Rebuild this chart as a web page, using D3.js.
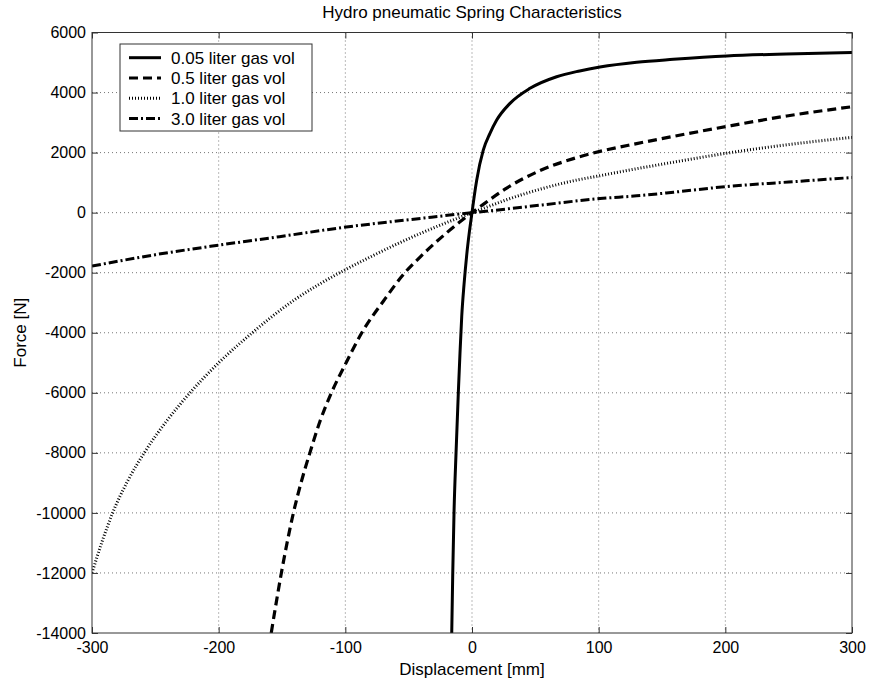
<!DOCTYPE html>
<html><head><meta charset="utf-8">
<script src="https://cdn.jsdelivr.net/npm/d3@7"></script>
<style>
body{margin:0;background:#fff;}
text{font-family:"Liberation Sans",Arial,sans-serif;fill:#000;}
</style></head><body>
<svg id="c" width="871" height="685"></svg>
<script>
const titleText = "Hydro pneumatic Spring Characteristics";
const xLabel = "Displacement [mm]";
const yLabel = "Force [N]";
const xTicks = [-300,-200,-100,0,100,200,300];
const yTicks = [6000,4000,2000,0,-2000,-4000,-6000,-8000,-10000,-12000,-14000];
const seriesNames = ["0.05 liter gas vol","0.5 liter gas vol","1.0 liter gas vol","3.0 liter gas vol"];

const x005 = [-16,-15.2,-14.2,-12.6,-10.8,-9.5,-8.1,-6.3,-4.2,-2.1,0,1.8,3.7,8.9,14.2,19.5,30,45.8,66.8,85,101,130,159,201,248,300];
const y005 = [-14000,-12000,-10000,-8000,-6000,-4700,-3450,-2400,-1420,-650,0,560,1083,2083,2640,3083,3640,4140,4527,4720,4850,5010,5107,5220,5285,5330];

const x05 = [-158.5,-155,-150.5,-146,-141,-135,-128,-120,-111,-100,-87,-70,-53,-41,-20,0,10,27.4,53.7,80,101,130,159,201,248.5,300];
const y05 = [-14000,-13100,-12000,-11000,-10000,-9000,-8000,-6950,-6000,-5050,-4000,-2950,-2000,-1480,-670,0,310,820,1400,1800,2040,2300,2540,2870,3220,3527];

const x10 = [-300,-292,-283.7,-272,-258,-240,-222.6,-200,-172.6,-160,-140,-120,-100,-80,-60,-40,-20,0,13,27.4,53.7,80,101,127,159,201,248.5,300];
const y10 = [-12000,-10950,-10000,-8950,-7950,-6880,-6000,-5000,-3970,-3530,-2900,-2370,-1900,-1470,-1060,-680,-330,0,205,430,780,1060,1230,1440,1680,1980,2260,2507];

const x30 = [-300,-250,-200,-152,-102,-36,0,27,54,101,130,159,201,250,300];
const y30 = [-1780,-1400,-1083,-800,-495,-170,0,120,250,470,560,680,870,1020,1170];

const seriesX = [x005,x05,x10,x30];
const seriesY = [y005,y05,y10,y30];
const dashes = [null,"9,5","1,2","9,3,2,3"];
const widths = [3,3.2,3,3];

const FS = "17px";
const TFS = "16px";
const svg = d3.select("#c");
const L=92,R=852,T=32.5,B=633;
const xs = d3.scaleLinear().domain([-300,300]).range([L,R]);
const ys = d3.scaleLinear().domain([-14000,6000]).range([B,T]);

// grid
const g = svg.append("g");
g.selectAll(".gx").data(xTicks.filter(d=>d>-300&&d<300)).enter().append("line")
 .attr("x1",d=>xs(d)).attr("x2",d=>xs(d)).attr("y1",T).attr("y2",B)
 .attr("stroke","#777").attr("stroke-width",1).attr("stroke-dasharray","1,3");
g.selectAll(".gy").data(yTicks.filter(d=>d>-14000&&d<6000)).enter().append("line")
 .attr("y1",d=>ys(d)).attr("y2",d=>ys(d)).attr("x1",L).attr("x2",R)
 .attr("stroke","#777").attr("stroke-width",1).attr("stroke-dasharray","1,3");

svg.append("clipPath").attr("id","clip").append("rect").attr("x",L).attr("y",T).attr("width",R-L).attr("height",B-T);

const line = d3.line().x(d=>xs(d[0])).y(d=>ys(d[1])).curve(d3.curveMonotoneX);
seriesX.forEach((xa,i)=>{
  const pts = xa.map((v,j)=>[v,seriesY[i][j]]);
  svg.append("path").attr("d",line(pts)).attr("fill","none").attr("stroke","#000")
   .attr("stroke-width",widths[i]).attr("stroke-dasharray",dashes[i]).attr("clip-path","url(#clip)");
});

// axes
const fmt = d => String(d);
function styleAxis(sel){
  sel.select(".domain").remove();
  sel.selectAll("line").attr("stroke","#333");
  sel.selectAll("text").attr("font-size",TFS).attr("font-family","'Liberation Sans',Arial,sans-serif");
}
svg.append("g").attr("transform",`translate(0,${B})`).call(d3.axisBottom(xs).tickValues(xTicks).tickSize(-6).tickSizeOuter(0).tickPadding(9).tickFormat(fmt)).call(styleAxis);
svg.append("g").attr("transform",`translate(0,${T})`).call(d3.axisTop(xs).tickValues(xTicks).tickSize(-6).tickSizeOuter(0).tickFormat("")).call(styleAxis);
svg.append("g").attr("transform",`translate(${L},0)`).call(d3.axisLeft(ys).tickValues(yTicks).tickSize(-6).tickSizeOuter(0).tickPadding(6).tickFormat(fmt)).call(styleAxis);
svg.append("g").attr("transform",`translate(${R},0)`).call(d3.axisRight(ys).tickValues(yTicks).tickSize(-6).tickSizeOuter(0).tickFormat("")).call(styleAxis);
svg.append("rect").attr("x",L).attr("y",T).attr("width",R-L).attr("height",B-T).attr("fill","none").attr("stroke","#333").attr("stroke-width",1);

// labels
svg.append("text").attr("x",(L+R)/2).attr("y",18).attr("text-anchor","middle").attr("font-size",FS).text(titleText);
svg.append("text").attr("x",(L+R)/2).attr("y",675).attr("text-anchor","middle").attr("font-size",FS).text(xLabel);
svg.append("text").attr("transform",`translate(26,${(T+B)/2}) rotate(-90)`).attr("text-anchor","middle").attr("font-size",FS).text(yLabel);

// legend
const lg = svg.append("g");
lg.append("rect").attr("x",120).attr("y",44).attr("width",192).attr("height",87).attr("fill","#fff").attr("stroke","#333").attr("stroke-width",1);
seriesNames.forEach((n,i)=>{
  const yy = 57.7+i*20.3;
  lg.append("line").attr("x1",129).attr("x2",161).attr("y1",yy).attr("y2",yy).attr("stroke","#000")
    .attr("stroke-width",widths[i]).attr("stroke-dasharray",dashes[i]);
  lg.append("text").attr("x",171).attr("y",yy+6).attr("font-size",FS).text(n);
});
</script></body></html>
